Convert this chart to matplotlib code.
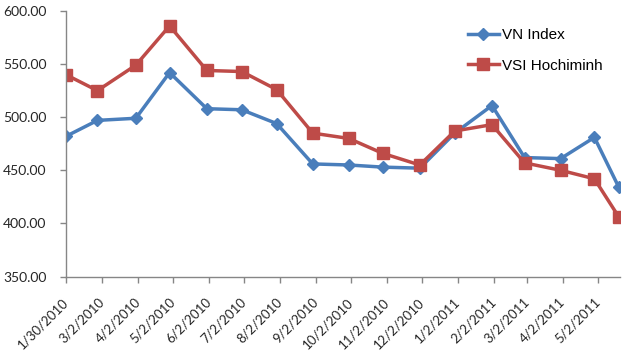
import pandas as pd
import matplotlib
matplotlib.use("Agg")
import matplotlib.pyplot as plt
import matplotlib.transforms as mtransforms

# data (month-end points, last one ~ May 20 2011)
dates = ["2010-01-30", "2010-02-26", "2010-03-31", "2010-04-29", "2010-05-31",
         "2010-06-30", "2010-07-30", "2010-08-30", "2010-09-30", "2010-10-29",
         "2010-11-30", "2010-12-30", "2011-01-31", "2011-02-28", "2011-03-31",
         "2011-04-29", "2011-05-20"]
vn_index = [482, 497, 499, 542, 508, 507, 494, 456, 455, 453,
            452, 485, 511, 462, 461, 481, 434]
vsi_hcm = [540, 525, 549, 586, 544, 543, 526, 485, 480, 466,
           455, 487, 493, 457, 450, 442, 406]
tick_dates = ["2010-01-30", "2010-03-02", "2010-04-02", "2010-05-02", "2010-06-02",
              "2010-07-02", "2010-08-02", "2010-09-02", "2010-10-02", "2010-11-02",
              "2010-12-02", "2011-01-02", "2011-02-02", "2011-03-02", "2011-04-02",
              "2011-05-02"]
y_ticks = [350, 400, 450, 500, 550, 600]

x = pd.to_datetime(dates)
ticks = pd.to_datetime(tick_dates)
tick_labels = [f"{d.month}/{d.day}/{d.year}" for d in ticks]

blue = "#4a7ebb"
red = "#be4b48"
axis_gray = "#868686"

fig = plt.figure(figsize=(6.32, 3.64), dpi=100)
ax = fig.add_axes([66 / 632, 1 - 276.5 / 364, (620 - 66) / 632, (276.5 - 11) / 364])

ax.plot(x, vn_index, color=blue, lw=2.5, marker="D", markersize=6.5, label="VN Index")
ax.plot(x, vsi_hcm, color=red, lw=2.5, marker="s", markersize=8.5, label="VSI Hochiminh")

ax.set_ylim(350, 600)
ax.set_yticks(y_ticks)
ax.set_yticklabels([f"{v:.2f}" for v in y_ticks], fontfamily="Lato", fontsize=10, color="#262626")
ax.set_xlim(ticks[0], pd.Timestamp("2011-05-21"))
ax.set_xticks(ticks)
ax.set_xticklabels(tick_labels, fontfamily="Lato", fontsize=9.5, color="#262626",
                   rotation=45, ha="right", va="center", rotation_mode="anchor")

# nudge the rotated date labels a little to the right, like the original
shift = mtransforms.ScaledTranslation(3 / 100, 0, fig.dpi_scale_trans)
for lbl in ax.get_xticklabels():
    lbl.set_transform(lbl.get_transform() + shift)

for side in ["top", "right"]:
    ax.spines[side].set_visible(False)
for side in ["left", "bottom"]:
    ax.spines[side].set_color(axis_gray)
    ax.spines[side].set_linewidth(1)
ax.tick_params(axis="both", direction="out", length=4, width=1, color=axis_gray)
ax.tick_params(axis="x", pad=13)
ax.tick_params(axis="y", pad=10)

leg = ax.legend(loc="upper left", bbox_to_anchor=(468 / 632, 1 - 28 / 364),
                bbox_transform=fig.transFigure, frameon=False, borderpad=0,
                borderaxespad=0, handlelength=2.0, handletextpad=0.25,
                labelspacing=1.1, prop={"family": "Liberation Sans", "size": 11})

fig.savefig("out.png", dpi=100)
